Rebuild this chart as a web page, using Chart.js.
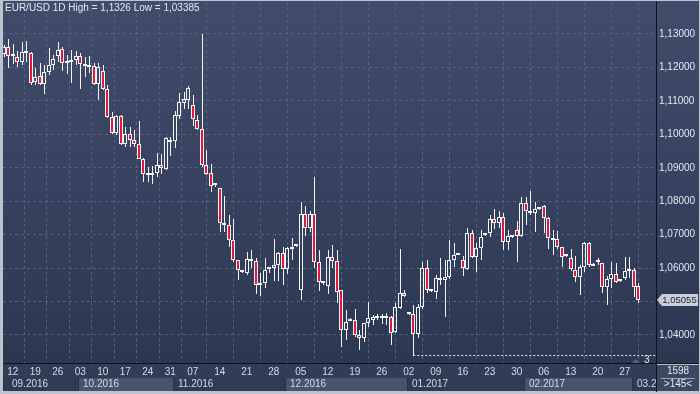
<!DOCTYPE html>
<html>
<head>
<meta charset="utf-8">
<title>EUR/USD 1D</title>
<script src="https://cdn.jsdelivr.net/npm/chart.js@4.4.1/dist/chart.umd.min.js"></script>
<style>
  html, body { margin: 0; padding: 0; background: #bcc3ce; }
  #wrap { width: 700px; height: 394px; }
</style>
</head>
<body>
<div id="wrap"><canvas id="chart" width="700" height="394"></canvas></div>
<script>
// ─── DATA: daily EUR/USD bars, 08.09.2016 .. 02.03.2017 (one entry per bar) ───

const opens = [
  1.1239, 1.1260, 1.1234, 1.1232, 1.1217, 1.1247, 1.1242, 1.1157, 1.1175, 1.1150,
  1.1187, 1.1207, 1.1235, 1.1254, 1.1212, 1.1215, 1.1221, 1.1234, 1.1209, 1.1202,
  1.1204, 1.1149, 1.1190, 1.1137, 1.1052, 1.1005, 1.1054, 1.0970, 1.1000, 1.0982,
  1.0972, 1.0927, 1.0880, 1.0878, 1.0885, 1.0909, 1.0897, 1.0978, 1.0980, 1.1055,
  1.1095, 1.1104, 1.1087, 1.1044, 1.1015, 1.0909, 1.0884, 1.0848, 1.0838, 1.0734,
  1.0729, 1.0684, 1.0624, 1.0592, 1.0586, 1.0627, 1.0622, 1.0550, 1.0554, 1.0596,
  1.0599, 1.0609, 1.0644, 1.0596, 1.0657, 1.0665, 1.0534, 1.0761, 1.0719, 1.0761,
  1.0617, 1.0559, 1.0546, 1.0634, 1.0621, 1.0534, 1.0415, 1.0443, 1.0446, 1.0399,
  1.0390, 1.0435, 1.0446, 1.0450, 1.0450, 1.0452, 1.0455, 1.0410, 1.0482, 1.0524,
  1.0464, 1.0462, 1.0402, 1.0485, 1.0599, 1.0534, 1.0529, 1.0571, 1.0564, 1.0572,
  1.0623, 1.0640, 1.0624, 1.0597, 1.0704, 1.0634, 1.0659, 1.0699, 1.0704, 1.0746,
  1.0734, 1.0752, 1.0677, 1.0695, 1.0714, 1.0696, 1.0796, 1.0770, 1.0765, 1.0777,
  1.0785, 1.0751, 1.0689, 1.0686, 1.0662, 1.0635, 1.0629, 1.0594, 1.0574, 1.0604,
  1.0674, 1.0612, 1.0617, 1.0614, 1.0544, 1.0566, 1.0581, 1.0563, 1.0569, 1.0597,
  1.0594, 1.0546
];

const highs = [
  1.1266, 1.1285, 1.1270, 1.1250, 1.1275, 1.1280, 1.1247, 1.1197, 1.1212, 1.1207,
  1.1257, 1.1237, 1.1277, 1.1260, 1.1237, 1.1252, 1.1250, 1.1242, 1.1232, 1.1234,
  1.1212, 1.1212, 1.1207, 1.1147, 1.1067, 1.1058, 1.1057, 1.1022, 1.1022, 1.1012,
  1.1040, 1.0929, 1.0902, 1.0904, 1.0945, 1.0940, 1.0992, 1.0992, 1.1070, 1.1124,
  1.1127, 1.1144, 1.1117, 1.1057, 1.1300, 1.0952, 1.0912, 1.0855, 1.0840, 1.0816,
  1.0759, 1.0747, 1.0625, 1.0595, 1.0649, 1.0655, 1.0629, 1.0584, 1.0629, 1.0602,
  1.0686, 1.0649, 1.0664, 1.0664, 1.0689, 1.0670, 1.0797, 1.0786, 1.0772, 1.0871,
  1.0654, 1.0560, 1.0654, 1.0669, 1.0654, 1.0534, 1.0474, 1.0450, 1.0479, 1.0415,
  1.0437, 1.0500, 1.0459, 1.0464, 1.0464, 1.0466, 1.0458, 1.0495, 1.0657, 1.0534,
  1.0466, 1.0491, 1.0493, 1.0619, 1.0624, 1.0536, 1.0579, 1.0629, 1.0624, 1.0684,
  1.0674, 1.0644, 1.0636, 1.0719, 1.0714, 1.0676, 1.0714, 1.0704, 1.0759, 1.0776,
  1.0771, 1.0766, 1.0714, 1.0697, 1.0741, 1.0813, 1.0813, 1.0830, 1.0798, 1.0781,
  1.0788, 1.0752, 1.0714, 1.0711, 1.0664, 1.0641, 1.0656, 1.0636, 1.0609, 1.0679,
  1.0679, 1.0614, 1.0629, 1.0615, 1.0576, 1.0619, 1.0616, 1.0565, 1.0634, 1.0634,
  1.0599, 1.0554
];

const lows = [
  1.1232, 1.1197, 1.1209, 1.1202, 1.1207, 1.1215, 1.1147, 1.1147, 1.1147, 1.1122,
  1.1177, 1.1192, 1.1217, 1.1190, 1.1179, 1.1152, 1.1207, 1.1137, 1.1172, 1.1182,
  1.1147, 1.1102, 1.1132, 1.1050, 1.1000, 1.0999, 1.0967, 1.0962, 1.0962, 1.0962,
  1.0925, 1.0857, 1.0857, 1.0850, 1.0872, 1.0882, 1.0894, 1.0935, 1.0960, 1.1047,
  1.1077, 1.1075, 1.1025, 1.1012, 1.0902, 1.0878, 1.0827, 1.0843, 1.0709, 1.0709,
  1.0664, 1.0619, 1.0564, 1.0585, 1.0579, 1.0600, 1.0522, 1.0516, 1.0539, 1.0584,
  1.0562, 1.0562, 1.0549, 1.0582, 1.0624, 1.0662, 1.0504, 1.0696, 1.0709, 1.0599,
  1.0531, 1.0550, 1.0522, 1.0599, 1.0496, 1.0365, 1.0385, 1.0442, 1.0394, 1.0355,
  1.0380, 1.0425, 1.0430, 1.0445, 1.0434, 1.0430, 1.0370, 1.0405, 1.0479, 1.0514,
  1.0460, 1.03385, 1.0390, 1.0479, 1.0524, 1.0528, 1.0509, 1.0549, 1.0453, 1.0566,
  1.0604, 1.0638, 1.0576, 1.0594, 1.0629, 1.0589, 1.0624, 1.0697, 1.0694, 1.0716,
  1.0719, 1.0654, 1.0654, 1.0690, 1.0619, 1.0692, 1.0729, 1.0758, 1.0709, 1.0775,
  1.0704, 1.0656, 1.0639, 1.0656, 1.0604, 1.0634, 1.0592, 1.0559, 1.0519, 1.0589,
  1.0604, 1.0605, 1.0609, 1.0524, 1.0489, 1.0539, 1.0556, 1.0558, 1.0564, 1.0569,
  1.0514, 1.0496
];

const closes = [
  1.1260, 1.1234, 1.1237, 1.1217, 1.1247, 1.1242, 1.1152, 1.1172, 1.1150, 1.1187,
  1.1207, 1.1224, 1.1252, 1.1214, 1.1216, 1.1222, 1.1233, 1.1209, 1.1204, 1.1206,
  1.1149, 1.1200, 1.1137, 1.1052, 1.1005, 1.1054, 1.0972, 1.1000, 1.0982, 1.0972,
  1.0927, 1.0880, 1.0877, 1.0885, 1.0907, 1.0899, 1.0989, 1.0984, 1.1057, 1.1097,
  1.1105, 1.1140, 1.1045, 1.1015, 1.0907, 1.0880, 1.0845, 1.0850, 1.0734, 1.0729,
  1.0684, 1.0624, 1.0594, 1.0588, 1.0627, 1.0622, 1.0550, 1.0554, 1.0594, 1.0600,
  1.0609, 1.0644, 1.0596, 1.0659, 1.0664, 1.0667, 1.0761, 1.0719, 1.0761, 1.0617,
  1.0559, 1.0556, 1.0634, 1.0621, 1.0529, 1.0415, 1.0440, 1.0449, 1.0399, 1.0392,
  1.0435, 1.0450, 1.0453, 1.0458, 1.0458, 1.0458, 1.0406, 1.0485, 1.0524, 1.0516,
  1.0462, 1.0402, 1.0485, 1.0599, 1.0534, 1.0530, 1.0569, 1.0564, 1.0574, 1.0624,
  1.0639, 1.0642, 1.0599, 1.0704, 1.0634, 1.0659, 1.0694, 1.0702, 1.0746, 1.0734,
  1.0752, 1.0677, 1.0696, 1.0692, 1.0696, 1.0796, 1.0770, 1.0765, 1.0778, 1.0780,
  1.0751, 1.0689, 1.0684, 1.0662, 1.0634, 1.0640, 1.0596, 1.0574, 1.0604, 1.0674,
  1.0609, 1.0607, 1.0621, 1.0544, 1.0566, 1.0581, 1.0559, 1.0560, 1.0591, 1.0592,
  1.0544, 1.05055
];

// first bar of each week (index into the arrays) and its day label
const weekBars   = [2, 7, 12, 17, 22, 27, 32, 37, 42, 48, 54, 60, 66, 72, 78, 84, 90, 96, 102, 108, 114, 120, 126, 132, 138];
const weekLabels = ['12', '19', '26', '03', '10', '17', '24', '31', '07', '14', '21', '28', '05', '12', '19', '26', '02', '09', '16', '23', '30', '06', '13', '20', '27'];

// first bar of each month and its label
const monthBars   = [0, 17, 38, 63, 90, 116, 140];
const monthLabels = ['09.2016', '10.2016', '11.2016', '12.2016', '01.2017', '02.2017', '03.2017'];

const yTicks = [1.04, 1.05, 1.06, 1.07, 1.08, 1.09, 1.10, 1.11, 1.12, 1.13];

const TITLE = 'EUR/USD 1D High = 1,1326 Low = 1,03385';
const LOW_BAR = 91;          // bar that made the period low
const BAR_COUNT = '1598';
const VISIBLE = '>145<';

// ─── STYLE ───
const FONT = "'Liberation Sans', Arial, sans-serif";
const FONT_SIZE = 10;
const BEAR = '#e2173c';
const EDGE = '#f2f4f8';
const TEXT = '#e2e8f3';

const fmt = v => v.toFixed(5).replace('.', ',');

// ─── DATASETS ───
const barIdx = opens.map((_, i) => i);
const bodies = barIdx.map(i => ({ x: i, y: [opens[i], closes[i]] }));
const wickUp = barIdx.map(i => ({ x: i, y: [Math.max(opens[i], closes[i]), highs[i]] }));
const wickDn = barIdx.map(i => ({ x: i, y: [lows[i], Math.min(opens[i], closes[i])] }));
const lowVal = lows[LOW_BAR];

// keep candles on the pixel grid so wicks stay 1px sharp
const snapPlugin = {
  id: 'snap',
  beforeDatasetsDraw(chart) {
    const xs = chart.scales.x;
    chart.data.datasets.forEach((ds, di) => {
      if (ds.type === 'line') return;
      const meta = chart.getDatasetMeta(di);
      meta.data.forEach((el, j) => {
        const cx = Math.round(xs.getPixelForValue(ds.data[j].x));
        el.x = ds.isWick ? cx + 0.5 : cx;
        el.y = Math.round(el.y);
        el.base = Math.round(el.base);
      });
    });
  }
};

const framePlugin = {
  id: 'frame',
  beforeDraw(chart) {
    const { ctx, chartArea: a, width } = chart;
    const xs = chart.scales.x;
    ctx.save();
    ctx.fillStyle = '#bcc3ce';
    ctx.fillRect(0, 0, width, chart.height);

    const g = ctx.createLinearGradient(0, 0, 0, a.bottom);
    g.addColorStop(0, '#404c69');
    g.addColorStop(0.5, '#36425f');
    g.addColorStop(1, '#2c3752');
    ctx.fillStyle = g;
    ctx.fillRect(a.left, 1, width - a.left - 1, a.bottom - 1);

    // date rows
    ctx.fillStyle = '#313d57';
    ctx.fillRect(a.left, a.bottom, a.right - a.left, 14);
    ctx.fillStyle = '#2f3b55';
    ctx.fillRect(a.left, a.bottom + 14, a.right - a.left, 13);

    // month boxes
    ctx.beginPath();
    ctx.rect(a.left, a.bottom, a.right - a.left, 27);
    ctx.clip();
    ctx.font = FONT_SIZE + 'px ' + FONT;
    ctx.textBaseline = 'middle';
    ctx.textAlign = 'left';
    monthBars.forEach((b, j) => {
      const x0 = j === 0 ? a.left : Math.round(xs.getPixelForValue(b - 0.5));
      const x1 = j + 1 < monthBars.length ? Math.round(xs.getPixelForValue(monthBars[j + 1] - 0.5)) : a.right;
      ctx.fillStyle = j % 2 ? '#48546d' : '#2f3b55';
      ctx.fillRect(x0, a.bottom + 14, x1 - x0, 13);
      ctx.fillStyle = '#263049';
      ctx.fillRect(x0, a.bottom + 14, 1, 13);
      ctx.fillStyle = '#d4dbe8';
      ctx.fillText(monthLabels[j], j === 0 ? 12 : x0 + 5, a.bottom + 20.5);
    });
    ctx.restore();

    // info box under the price axis
    ctx.save();
    ctx.fillStyle = '#3c4862';
    ctx.fillRect(a.right + 1, a.bottom + 1, width - a.right - 2, 26);
    ctx.fillStyle = TEXT;
    ctx.font = FONT_SIZE + 'px ' + FONT;
    ctx.textAlign = 'center';
    ctx.textBaseline = 'middle';
    ctx.fillText(BAR_COUNT, 678, a.bottom + 7.5);
    ctx.fillText(VISIBLE, 678, a.bottom + 20.5);
    ctx.fillStyle = '#9aa5b8';
    ctx.fillRect(661, a.bottom + 14, 34, 1);
    ctx.restore();
  },
  afterDraw(chart) {
    const { ctx, chartArea: a, width } = chart;
    const ys = chart.scales.y;
    ctx.save();
    // separators
    ctx.fillStyle = '#0d121c';
    ctx.fillRect(a.right, 1, 1, a.bottom + 27);
    ctx.fillRect(a.left, a.bottom - 1, width - a.left - 1, 1);

    // title
    ctx.fillStyle = TEXT;
    ctx.font = FONT_SIZE + 'px ' + FONT;
    ctx.textAlign = 'left';
    ctx.textBaseline = 'middle';
    ctx.fillText(TITLE, 5, 8.5);

    // marker of the period low
    const ly = Math.round(ys.getPixelForValue(lowVal));
    ctx.fillStyle = '#58637a';
    ctx.beginPath();
    ctx.moveTo(632, ly + 7);
    ctx.lineTo(640, ly + 7);
    ctx.lineTo(636, ly + 3);
    ctx.closePath();
    ctx.fill();
    ctx.fillStyle = TEXT;
    ctx.fillText('3', 644, ly + 4);

    // last price tag
    const last = closes[closes.length - 1];
    const py = Math.round(ys.getPixelForValue(last));
    ctx.fillStyle = '#c9ced6';
    ctx.beginPath();
    ctx.moveTo(657, py);
    ctx.lineTo(662, py - 6);
    ctx.lineTo(698, py - 6);
    ctx.lineTo(698, py + 6);
    ctx.lineTo(662, py + 6);
    ctx.closePath();
    ctx.fill();
    ctx.fillStyle = '#1b2337';
    ctx.font = '9.5px ' + FONT;
    ctx.textAlign = 'center';
    ctx.fillText(fmt(last), 679.5, py + 0.5);
    ctx.restore();
  }
};

Chart.defaults.font.family = FONT;
Chart.defaults.font.size = FONT_SIZE;

new Chart(document.getElementById('chart'), {
  type: 'bar',
  data: {
    datasets: [
      {
        label: 'body',
        data: bodies,
        barThickness: 4,
        minBarLength: 2,
        borderWidth: 1,
        borderSkipped: false,
        inflateAmount: 0,
        borderColor: EDGE,
        backgroundColor: barIdx.map(i => closes[i] < opens[i] ? BEAR : 'rgba(0,0,0,0)')
      },
      {
        label: 'upper wick',
        isWick: true,
        data: wickUp,
        barThickness: 1,
        borderWidth: 0,
        inflateAmount: 0,
        backgroundColor: EDGE
      },
      {
        label: 'lower wick',
        isWick: true,
        data: wickDn,
        barThickness: 1,
        borderWidth: 0,
        inflateAmount: 0,
        backgroundColor: EDGE
      },
      {
        type: 'line',
        label: 'low line',
        data: [{ x: LOW_BAR, y: lowVal }, { x: 144.9, y: lowVal }],
        borderColor: '#e8ecf4',
        borderWidth: 1,
        borderDash: [2, 2],
        pointRadius: 0
      }
    ]
  },
  options: {
    responsive: false,
    animation: false,
    events: [],
    grouped: false,
    layout: { padding: { left: 3, top: 2, right: 0, bottom: 0 } },
    plugins: { legend: { display: false }, tooltip: { enabled: false } },
    scales: {
      x: {
        type: 'linear',
        offset: false,
        min: -0.178,
        max: 144.93,
        afterFit: s => {
          s.height = 30;
          s.paddingLeft = 0;
          s.paddingRight = 0;
        },
        afterBuildTicks: s => { s.ticks = weekBars.map(v => ({ value: v })); },
        ticks: {
          autoSkip: false,
          maxRotation: 0,
          padding: 2,
          color: '#d4dbe8',
          callback: (v, i) => weekLabels[i]
        },
        grid: { color: '#56627d', drawTicks: false },
        border: { display: false, dash: [3, 3] }
      },
      y: {
        position: 'right',
        min: 1.031315,
        max: 1.139569,
        afterFit: s => {
          s.width = 44;
          s.paddingTop = 0;
          s.paddingBottom = 0;
        },
        afterBuildTicks: s => { s.ticks = yTicks.map(v => ({ value: v })); },
        ticks: {
          padding: 3,
          color: TEXT,
          callback: v => fmt(v)
        },
        grid: { color: '#56627d', drawTicks: false },
        border: { display: false, dash: [3, 3] }
      }
    }
  },
  plugins: [framePlugin, snapPlugin]
});
</script>
</body>
</html>
